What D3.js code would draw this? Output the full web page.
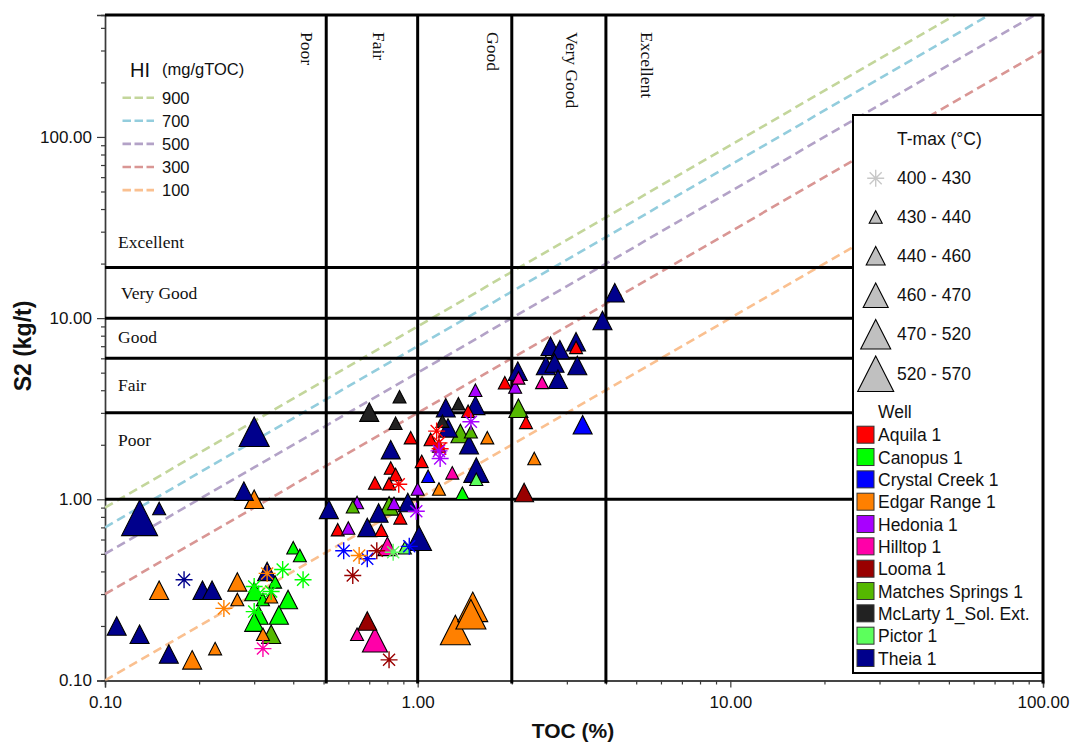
<!DOCTYPE html>
<html>
<head>
<meta charset="utf-8">
<script src="https://cdn.jsdelivr.net/npm/d3@7"></script>
<style>
  body { margin: 0; background: #fff; }
  svg { display: block; }
  text { font-family: Arial, "Liberation Sans", sans-serif; fill: #111; }
  .serif { font-family: "Liberation Serif", "Times New Roman", serif; }
</style>
</head>
<body>
<svg id="chart" width="1078" height="745"></svg>
<script>
// ---- Wells (legend order) and their colours ----
const wells = ["Aquila 1", "Canopus 1", "Crystal Creek 1", "Edgar Range 1", "Hedonia 1",
  "Hilltop 1", "Looma 1", "Matches Springs 1", "McLarty 1_Sol. Ext.", "Pictor 1", "Theia 1"];
const wellColors = ["#ff0000", "#00ff00", "#0000ff", "#ff8000", "#a800ff",
  "#ff00a8", "#990000", "#55b800", "#222222", "#5cff5c", "#00008c"];

// ---- Samples per well: [TOC %, S2 kg/t, Tmax °C] ----
const aquila = [
  [0.95, 2.19, 435], [0.82, 1.49, 435], [0.85, 1.37, 435], [0.87, 1.21, 420], [0.73, 1.23, 435],
  [0.81, 1.22, 435], [0.88, 0.79, 435], [0.555, 0.68, 435], [0.765, 0.675, 435], [1.45, 3.06, 435],
  [1.15, 2.38, 420], [1.10, 2.14, 435], [1.17, 2.05, 420], [1.18, 1.90, 420], [1.17, 1.97, 435],
  [1.03, 1.62, 435], [1.90, 4.40, 435], [2.22, 2.66, 435], [3.21, 6.90, 435]
];
const canopus = [
  [0.40, 0.54, 435], [0.42, 0.49, 435], [0.35, 0.35, 435], [0.30, 0.31, 450], [0.32, 0.28, 435],
  [0.385, 0.28, 450], [0.31, 0.23, 450], [0.36, 0.23, 450], [0.30, 0.21, 450], [1.39, 1.08, 435],
  [0.37, 0.41, 420], [0.43, 0.36, 420], [0.31, 0.30, 420], [0.34, 0.31, 420], [0.30, 0.24, 420],
  [0.30, 0.33, 420]
];
const crystalCreek = [
  [0.58, 0.52, 420], [0.69, 0.47, 420], [0.94, 0.55, 420], [1.08, 1.34, 435], [3.37, 2.58, 450]
];
const edgarRange = [
  [0.30, 1.00, 450], [0.149, 0.315, 450], [0.19, 0.13, 450], [0.225, 0.15, 435], [0.24, 0.25, 420],
  [0.265, 0.35, 450], [0.265, 0.28, 435], [0.33, 0.39, 420], [0.32, 0.18, 435], [0.34, 0.29, 435],
  [0.65, 0.49, 420], [1.67, 2.19, 435], [1.17, 1.14, 435], [2.36, 1.68, 435], [1.32, 0.19, 490],
  [1.50, 0.255, 490], [1.48, 0.232, 490]
];
const hedonia = [
  [0.64, 0.96, 435], [0.84, 0.95, 435], [0.99, 0.86, 420], [0.60, 0.695, 435], [1.53, 4.00, 435],
  [1.48, 2.68, 420], [1.18, 1.68, 420], [1.17, 1.85, 420], [1.00, 1.14, 435], [2.05, 4.17, 435]
];
const hilltop = [
  [0.32, 0.15, 420], [0.80, 0.55, 450], [1.29, 1.40, 435], [2.50, 4.42, 435], [2.10, 4.68, 435],
  [0.64, 0.18, 435], [0.73, 0.168, 465]
];
const looma = [
  [2.19, 1.09, 450], [0.62, 0.38, 420], [0.74, 0.52, 420], [0.81, 0.13, 420], [0.69, 0.213, 450]
];
const matchesSprings = [
  [0.62, 0.91, 435], [0.81, 0.92, 450], [1.37, 2.31, 450], [1.48, 2.36, 435], [2.10, 3.18, 450],
  [0.34, 0.18, 450]
];
const mcLarty = [
  [0.875, 3.68, 435], [0.70, 3.03, 450], [0.85, 2.63, 435], [1.35, 3.37, 435], [1.20, 2.70, 435]
];
const pictor = [
  [0.835, 0.51, 420], [0.91, 0.54, 435], [1.54, 1.29, 435]
];
const theia = [
  [0.129, 0.79, 540], [0.149, 0.89, 435], [0.278, 1.11, 450], [0.52, 0.88, 450], [0.179, 0.36, 420],
  [0.205, 0.315, 450], [0.22, 0.315, 450], [0.109, 0.20, 450], [0.129, 0.18, 450], [0.16, 0.14, 450],
  [0.33, 0.40, 450], [0.30, 2.36, 490], [0.82, 1.88, 450], [0.75, 0.84, 450], [0.93, 0.96, 450],
  [0.69, 0.70, 450], [1.01, 0.61, 465], [1.53, 3.30, 450], [1.23, 3.20, 450], [1.25, 2.48, 450],
  [1.46, 2.00, 450], [1.54, 1.45, 465], [4.27, 13.8, 450], [3.90, 9.70, 450], [2.66, 7.00, 450],
  [2.85, 6.70, 450], [3.21, 7.40, 450], [2.57, 5.48, 450], [2.74, 5.65, 450], [3.24, 5.48, 450],
  [2.81, 4.60, 450], [2.09, 5.10, 450]
];
const wellSamples = [aquila, canopus, crystalCreek, edgarRange, hedonia, hilltop, looma,
  matchesSprings, mcLarty, pictor, theia];

// ---- Hydrogen index guide lines (mg HC / g TOC) ----
const hiValues = [900, 700, 500, 300, 100];
const hiColors = ["#c3d69b", "#93cddd", "#b3a2c7", "#d99694", "#fac090"];

// ---- Tmax classes ----
const tmaxBreaks = [430, 440, 460, 470, 520];
const tmaxLabels = ["400 - 430", "430 - 440", "440 - 460", "460 - 470", "470 - 520", "520 - 570"];
const tmaxLegendValues = [415, 435, 450, 465, 495, 545];

// ---- Source rock quality classes ----
const tocBounds = [0.51, 1, 2, 4];
const tocLabels = ["Poor", "Fair", "Good", "Very Good", "Excellent"];
const s2Bounds = [1, 3, 6, 10, 19];
const s2Labels = ["Poor", "Fair", "Good", "Very Good", "Excellent"];

// ---- Axis ticks ----
const xTicks = [0.1, 1, 10, 100];
const yTicks = [0.1, 1, 10, 100];

// ====================================================================
const svg = d3.select("#chart");
const pLeft = 105, pRight = 1043, pTop = 15, pBottom = 680.5;

const x = d3.scaleLog().domain([0.1, 100]).range([pLeft, pRight]);
const y = d3.scaleLog().domain([0.1, 471]).range([pBottom, pTop]);
const markerSize = d3.scaleThreshold().domain(tmaxBreaks).range([0, 14, 20, 26, 31, 37]);

svg.append("defs").append("clipPath").attr("id", "plotClip")
  .append("rect").attr("x", pLeft).attr("y", pTop).attr("width", pRight - pLeft).attr("height", pBottom - pTop);

// minor tick values
const minorX = [], minorY = [];
[0.1, 1, 10].forEach(d => d3.range(2, 10).forEach(k => minorX.push(d * k)));
[0.1, 1, 10, 100].forEach(d => d3.range(2, 10).forEach(k => { const v = d * k; if (v < 471) minorY.push(v); }));

const axisColor = "#3a3a3a";
function styleAxis(g) {
  g.selectAll(".domain").attr("stroke", axisColor).attr("stroke-width", 1.4);
  g.selectAll(".tick line").attr("stroke", axisColor).attr("stroke-width", 1.2);
  g.selectAll(".tick text").attr("font-size", 17).attr("fill", "#111")
    .attr("font-family", "Arial, 'Liberation Sans', sans-serif");
}
svg.append("g").attr("transform", `translate(0,${pBottom})`)
  .call(d3.axisBottom(x).tickValues(minorX).tickSize(4).tickFormat("")).call(styleAxis);
svg.append("g").attr("transform", `translate(0,${pBottom})`)
  .call(d3.axisBottom(x).tickValues(xTicks).tickSize(7).tickPadding(8).tickFormat(d3.format(".2f")))
  .call(styleAxis);
svg.append("g").attr("transform", `translate(${pLeft},0)`)
  .call(d3.axisLeft(y).tickValues(minorY).tickSize(4).tickFormat("")).call(styleAxis);
svg.append("g").attr("transform", `translate(${pLeft},0)`)
  .call(d3.axisLeft(y).tickValues(yTicks).tickSize(8).tickPadding(5).tickFormat(d3.format(".2f")))
  .call(styleAxis);

// axis titles
svg.append("text").attr("x", 573).attr("y", 738).attr("text-anchor", "middle")
  .attr("font-size", 21).attr("font-weight", "bold").text("TOC (%)");
svg.append("text").attr("transform", "translate(30.5,346) rotate(-90)").attr("text-anchor", "middle")
  .attr("font-size", 23).attr("font-weight", "bold").text("S2 (kg/t)");

// HI guide lines: S2 = HI * TOC / 100
const plot = svg.append("g").attr("clip-path", "url(#plotClip)");
const tocRange = [0.1, 100];
plot.selectAll("line.hi").data(hiValues).join("line").attr("class", "hi")
  .attr("x1", x(tocRange[0])).attr("y1", d => y(d * tocRange[0] / 100))
  .attr("x2", x(tocRange[1])).attr("y2", d => y(d * tocRange[1] / 100))
  .attr("stroke", (d, i) => hiColors[i]).attr("stroke-width", 2.6)
  .attr("stroke-dasharray", "9,5");

// classification grid (vertical dividers run a little past the x axis)
const grid = svg.append("g").attr("stroke", "#000").attr("stroke-width", 3);
grid.selectAll("line.v").data(tocBounds).join("line").attr("class", "v")
  .attr("x1", d => x(d)).attr("x2", d => x(d)).attr("y1", pTop).attr("y2", pBottom + 3);
grid.selectAll("line.h").data(s2Bounds).join("line").attr("class", "h")
  .attr("x1", pLeft).attr("x2", pRight).attr("y1", d => y(d)).attr("y2", d => y(d));
grid.append("line").attr("x1", pLeft).attr("x2", pRight + 1.5).attr("y1", pTop).attr("y2", pTop);
grid.append("line").attr("x1", pRight).attr("x2", pRight).attr("y1", pTop).attr("y2", pBottom + 3);

// class labels (TOC along the top, S2 along the left)
const tocLabelX = [301, 373, 487, 566, 641];
svg.selectAll("text.tocLab").data(tocLabels).join("text").attr("class", "tocLab serif")
  .attr("transform", (d, i) => `translate(${tocLabelX[i]},32) rotate(90)`)
  .attr("font-size", 17.5).text(d => d);
const s2LabelY = [446, 391, 343, 299, 248];
const s2LabelX = [118, 118, 118, 121, 118];
svg.selectAll("text.s2Lab").data(s2Labels).join("text").attr("class", "s2Lab serif")
  .attr("x", (d, i) => s2LabelX[i]).attr("y", (d, i) => s2LabelY[i])
  .attr("font-size", 17.5).text(d => d);

// sample markers
function triPath(s) {
  const w = s - 1, h = s - 1.5;
  return `M0,${-h / 2}L${w / 2},${h / 2}L${-w / 2},${h / 2}Z`;
}
function starPath(r) {
  const d = r * 0.7071;
  return `M${-r},0L${r},0M0,${-r}L0,${r}M${-d},${-d}L${d},${d}M${-d},${d}L${d},${-d}`;
}
const samples = [];
wellSamples.forEach((arr, wi) => arr.forEach(([toc, s2, tmax]) =>
  samples.push({ well: wi, toc, s2, tmax, size: markerSize(tmax) })));
// larger triangles first, smaller on top, asterisks last
samples.sort((a, b) => {
  const sa = a.size === 0 ? -1 : a.size, sb = b.size === 0 ? -1 : b.size;
  return sb - sa;
});
const pts = svg.append("g").attr("clip-path", "url(#plotClip)");
pts.selectAll("path.pt").data(samples).join("path").attr("class", "pt")
  .attr("transform", d => `translate(${x(d.toc)},${y(d.s2)})`)
  .attr("d", d => d.size === 0 ? starPath(8.5) : triPath(d.size))
  .attr("fill", d => d.size === 0 ? "none" : wellColors[d.well])
  .attr("stroke", d => d.size === 0 ? wellColors[d.well] : "#000")
  .attr("stroke-width", d => d.size === 0 ? 1.4 : 1.1)
  .attr("stroke-linejoin", "miter");

// HI legend
svg.append("text").attr("x", 130).attr("y", 77).attr("font-size", 20).text("HI");
svg.append("text").attr("x", 162).attr("y", 75).attr("font-size", 16.5).text("(mg/gTOC)");
const hiLeg = svg.append("g").selectAll("g").data(hiValues).join("g")
  .attr("transform", (d, i) => `translate(0,${97.7 + i * 23.1})`);
hiLeg.append("line").attr("x1", 122.5).attr("x2", 154).attr("y1", 0).attr("y2", 0)
  .attr("stroke", (d, i) => hiColors[i]).attr("stroke-width", 2.6).attr("stroke-dasharray", "8.5,3.5");
hiLeg.append("text").attr("x", 162).attr("y", 6).attr("font-size", 16.5).text(d => d);

// Tmax / well legend box
const lg = svg.append("g");
lg.append("rect").attr("x", 853).attr("y", 115).attr("width", 189.5).attr("height", 558)
  .attr("fill", "#fff").attr("stroke", "#000").attr("stroke-width", 2);
lg.append("text").attr("x", 897).attr("y", 145).attr("font-size", 17.5).text("T-max (°C)");
const tRowY = [178.3, 217, 255.7, 295.2, 334.3, 373.7];
const tRow = lg.selectAll("g.trow").data(tmaxLegendValues).join("g").attr("class", "trow")
  .attr("transform", (d, i) => `translate(0,${tRowY[i]})`);
tRow.append("path").attr("transform", "translate(875.7,0)")
  .attr("d", d => markerSize(d) === 0 ? starPath(8.5) : triPath(markerSize(d)))
  .attr("fill", d => markerSize(d) === 0 ? "none" : "#c0c0c0")
  .attr("stroke", d => markerSize(d) === 0 ? "#c8c8c8" : "#000")
  .attr("stroke-width", d => markerSize(d) === 0 ? 1.4 : 1.1);
tRow.append("text").attr("x", 897).attr("y", 6).attr("font-size", 17.5).text((d, i) => tmaxLabels[i]);

lg.append("text").attr("x", 878).attr("y", 418).attr("font-size", 17.5).text("Well");
const wRow = lg.selectAll("g.wrow").data(wells).join("g").attr("class", "wrow")
  .attr("transform", (d, i) => `translate(0,${434.7 + i * 22.33})`);
wRow.append("rect").attr("x", 857).attr("y", -8.5).attr("width", 17).attr("height", 17)
  .attr("fill", (d, i) => wellColors[i]).attr("stroke", "#333").attr("stroke-width", 1);
wRow.append("text").attr("x", 878).attr("y", 6.5).attr("font-size", 17.5).text(d => d);
</script>
</body>
</html>
